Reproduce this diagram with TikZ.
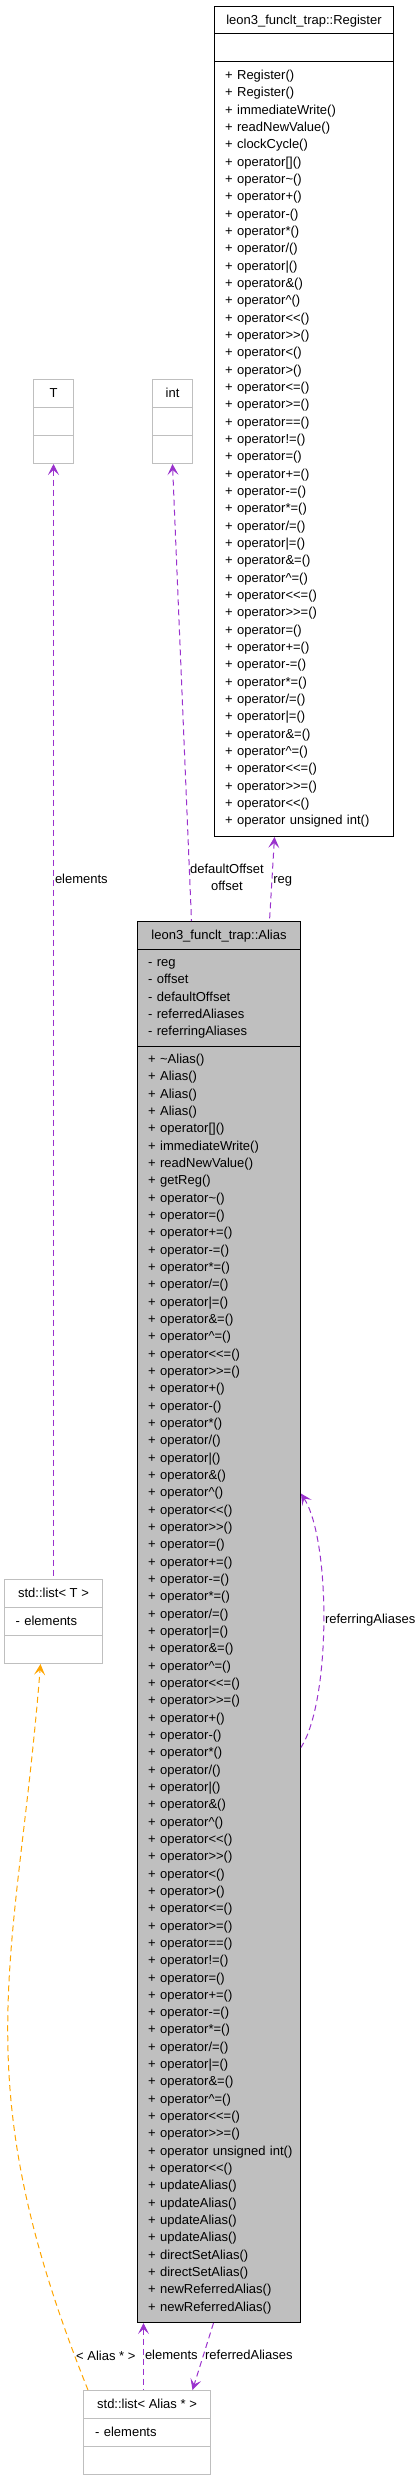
\documentclass[tikz,border=0pt]{standalone}
\usepackage{fontspec}
\setmainfont{Liberation Sans}
\usetikzlibrary{arrows.meta,calc}

\definecolor{usagecol}{HTML}{9A32CD}
\definecolor{tmplcol}{HTML}{FFA500}
\definecolor{grey75}{HTML}{BFBFBF}

% member blocks that repeat
\newcommand{\assignops}{+ operator=()\\ + operator+=()\\ + operator-=()\\ + operator*=()\\ + operator/=()\\ + operator|=()\\ + operator\&=()\\ + operator\textasciicircum=()\\ + operator<{}<=()\\ + operator>{}>=()}
\newcommand{\bitops}{+ operator+()\\ + operator-()\\ + operator*()\\ + operator/()\\ + operator|()\\ + operator\&()\\ + operator\textasciicircum()\\ + operator<{}<()\\ + operator>{}>()}
\newcommand{\cmpops}{+ operator<()\\ + operator>()\\ + operator<=()\\ + operator>=()\\ + operator==()\\ + operator!=()}

\begin{document}
\begin{tikzpicture}[x=1pt,y=-1pt,
    font=\fontsize{13}{17.33}\selectfont,
    >={Stealth[length=11pt,width=11pt,inset=5pt]},
    classbox/.style={draw=black,line width=1pt,anchor=north west,inner sep=0pt},
    greybox/.style={draw=grey75,line width=1pt,anchor=north west,inner sep=0pt},
    classline/.style={draw=black,line width=1pt},
    greyline/.style={draw=grey75,line width=1pt},
    members/.style={anchor=base west,inner sep=0pt,text width=175pt,align=left},
    usage/.style={draw=usagecol,line width=1pt,dash pattern=on 6pt off 4pt},
    tmpl/.style={draw=tmplcol,line width=1pt,dash pattern=on 6pt off 4pt},
    lbl/.style={inner sep=1pt,anchor=west}]
    \useasboundingbox (0,0) rectangle (420,2480);

    % Register class
    \node[classbox,minimum width=179pt,minimum height=830pt] (register) at (214,6) {};
    \draw[classline] ($(register.north west)+(0,28)$) -- ($(register.north east)+(0,28)$);
    \draw[classline] ($(register.north west)+(0,56)$) -- ($(register.north east)+(0,56)$);
    \node[anchor=base] (registertitle) at ($(register.north)+(0,18.5)$) {leon3\_funclt\_trap::Register};
    \node[members] (registerops) at ($(register.north west)+(11,73.5)$) {+ Register()\\ + Register()\\ + immediateWrite()\\ + readNewValue()\\ + clockCycle()\\ + operator[]()\\ + operator\textasciitilde()\\ \bitops\\ \cmpops\\ \assignops\\ \assignops\\ + operator<{}<()\\ + operator unsigned int()};

    % Alias class
    \node[classbox,fill=grey75,minimum width=163pt,minimum height=1401pt] (alias) at (137,921) {};
    \draw[classline] ($(alias.north west)+(0,28)$) -- ($(alias.north east)+(0,28)$);
    \draw[classline] ($(alias.north west)+(0,125)$) -- ($(alias.north east)+(0,125)$);
    \node[anchor=base] (aliastitle) at ($(alias.north)+(0,18.5)$) {leon3\_funclt\_trap::Alias};
    \node[members] (aliasattrs) at ($(alias.north west)+(11,45.5)$) {- reg\\ - offset\\ - defaultOffset\\ - referredAliases\\ - referringAliases};
    \node[members] (aliasops) at ($(alias.north west)+(11,142.5)$) {+ \textasciitilde Alias()\\ + Alias()\\ + Alias()\\ + Alias()\\ + operator[]()\\ + immediateWrite()\\ + readNewValue()\\ + getReg()\\ + operator\textasciitilde()\\ \assignops\\ \bitops\\ \assignops\\ \bitops\\ \cmpops\\ \assignops\\ + operator unsigned int()\\ + operator<{}<()\\ + updateAlias()\\ + updateAlias()\\ + updateAlias()\\ + updateAlias()\\ + directSetAlias()\\ + directSetAlias()\\ + newReferredAlias()\\ + newReferredAlias()};

    % T and int
    \node[greybox,minimum width=40pt,minimum height=84pt] (tparam) at (33,379) {};
    \draw[greyline] ($(tparam.north west)+(0,28)$) -- ($(tparam.north east)+(0,28)$);
    \draw[greyline] ($(tparam.north west)+(0,56)$) -- ($(tparam.north east)+(0,56)$);
    \node[anchor=base] (tparamtitle) at ($(tparam.north)+(0,18.5)$) {T};

    \node[greybox,minimum width=40pt,minimum height=84pt] (intparam) at (152,379) {};
    \draw[greyline] ($(intparam.north west)+(0,28)$) -- ($(intparam.north east)+(0,28)$);
    \draw[greyline] ($(intparam.north west)+(0,56)$) -- ($(intparam.north east)+(0,56)$);
    \node[anchor=base] (intparamtitle) at ($(intparam.north)+(0,18.5)$) {int};

    % std::list< T >
    \node[greybox,minimum width=98pt,minimum height=84pt] (listT) at (4,1579) {};
    \draw[greyline] ($(listT.north west)+(0,28)$) -- ($(listT.north east)+(0,28)$);
    \draw[greyline] ($(listT.north west)+(0,56)$) -- ($(listT.north east)+(0,56)$);
    \node[anchor=base] (listTtitle) at ($(listT.north)+(0,18.5)$) {std::list< T >};
    \node[members] (listTattrs) at ($(listT.north west)+(11.5,46.5)$) {- elements};

    % std::list< Alias * >
    \node[greybox,minimum width=127pt,minimum height=84pt] (listAlias) at (83,2390) {};
    \draw[greyline] ($(listAlias.north west)+(0,28)$) -- ($(listAlias.north east)+(0,28)$);
    \draw[greyline] ($(listAlias.north west)+(0,56)$) -- ($(listAlias.north east)+(0,56)$);
    \node[anchor=base] (listAliastitle) at ($(listAlias.north)+(0,18.5)$) {std::list< Alias * >};
    \node[members] (listAliasattrs) at ($(listAlias.north west)+(12,46.5)$) {- elements};

    % usage edges
    \draw[usage,<-] (tparam.south) -- node[lbl,pos=0.372] (lblelemT) {elements} (listT.north);
    \draw[usage,<-] (intparam.south) -- node[lbl,pos=0.904,inner sep=0pt,align=center] (lbloffset) {defaultOffset\\offset} ([xshift=-27.5pt]alias.north);
    \draw[usage,<-] ([xshift=-29.5pt]register.south) -- node[lbl,pos=0.53] (lblreg) {reg} ([xshift=50.5pt]alias.north);
    \draw[usage,<-] ([yshift=128.5pt]alias.east) .. controls +(30,47) and +(30,-47) .. node[lbl,pos=0.5] (lblreferring) {referringAliases} ([yshift=-125.5pt]alias.east);
    \draw[usage,<-] ([xshift=-75.5pt]alias.south) -- node[lbl,pos=0.47] (lblelemA) {elements} ([xshift=-3.5pt]listAlias.north);
    \draw[usage,->] ([xshift=-5.5pt]alias.south) -- node[lbl,pos=0.47] (lblreferred) {referredAliases} ([xshift=45.5pt]listAlias.north);

    % template instance edge
    \draw[tmpl,->] ([xshift=5pt]listAlias.north west) .. controls (-39,2073) and (17,1963) .. node[lbl,pos=0.037] (lblinst) {< Alias * >} ([xshift=-13pt]listT.south);
\end{tikzpicture}
\end{document}
